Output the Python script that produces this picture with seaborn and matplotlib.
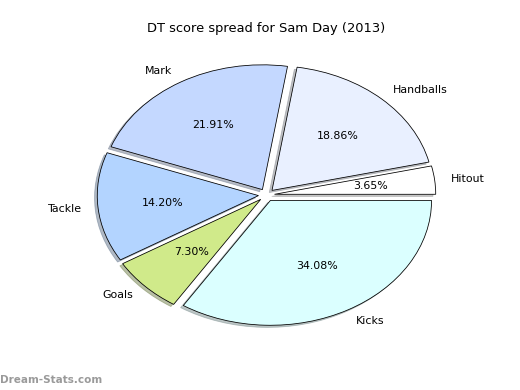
import matplotlib
matplotlib.use("Agg")
import matplotlib.pyplot as plt
import seaborn as sns

sns.set_style("white", {"text.color": "black"})

# Slice data (counterclockwise from 0 degrees)
categories = ["Hitout", "Handballs", "Mark", "Tackle", "Goals", "Kicks"]
shares = [3.65, 18.86, 21.91, 14.20, 7.30, 34.08]
slice_colors = ["#ffffff", "#e9f0ff", "#c4d8ff", "#b3d4ff", "#d0ea8a", "#dbffff"]

palette = sns.color_palette(slice_colors)

fig = plt.figure(figsize=(6.4, 4.8), dpi=81.25)
ax = fig.add_axes([0.125, 0.1, 0.775, 0.8])

wedges, texts, autotexts = ax.pie(
    shares,
    labels=categories,
    colors=palette,
    explode=[0.05] * len(shares),
    autopct="%1.2f%%",
    startangle=0,
    shadow={"ox": -0.015, "oy": -0.015, "shade": 0.45},
    wedgeprops={"edgecolor": "black", "linewidth": 0.7},
    textprops={"fontsize": 9.8, "color": "black"},
)
ax.set_aspect("auto")
ax.set_xlim(-1.25, 1.25)
ax.set_ylim(-1.25, 1.25)

ax.set_title("DT score spread for Sam Day (2013)", fontsize=11.5, pad=6, color="black")

fig.text(0.0, 0.012, "Dream-Stats.com", color="#9a9a9a", fontsize=9.2,
         fontweight="bold", ha="left", va="bottom")

fig.savefig("out.png", dpi=81.25)
